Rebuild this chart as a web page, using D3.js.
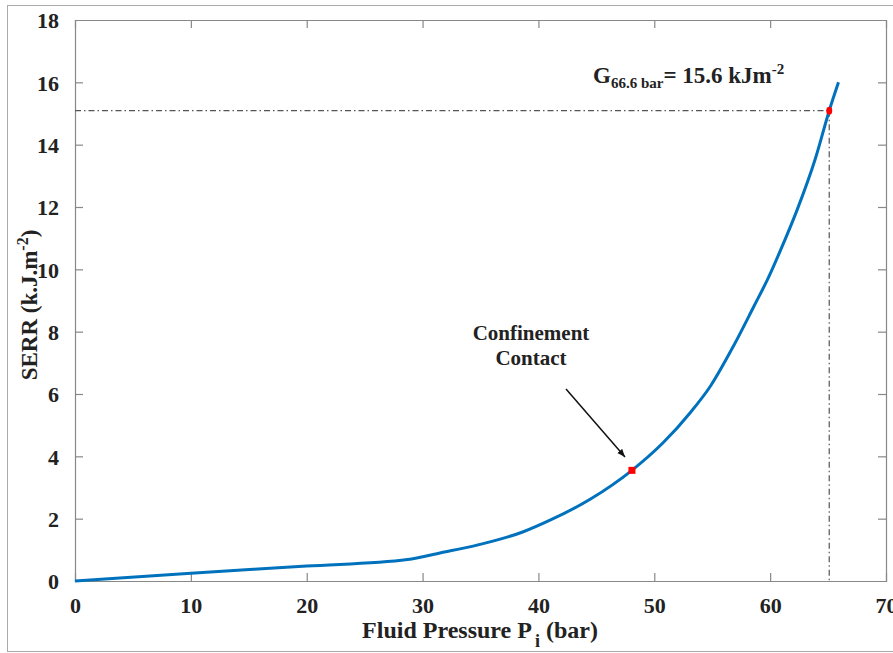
<!DOCTYPE html>
<html><head><meta charset="utf-8">
<script src="https://cdn.jsdelivr.net/npm/d3@7"></script>
<style>body{margin:0;background:#fff}svg{display:block}svg text{font-family:"Times New Roman","Liberation Serif","DejaVu Serif",serif !important;font-weight:bold;fill:#222}</style>
</head><body>
<script>
// Data
const pressure = [0, 10, 20, 28.7, 31.5, 34.7, 38.7, 41, 44.5, 48.07, 50.8, 53.1, 54.84, 56.85, 58.58, 59.87, 60.88, 62.32, 63.9, 65.1, 65.9];
const serr     = [0, 0.25, 0.48, 0.69, 0.9, 1.15, 1.58, 1.95, 2.63, 3.55, 4.45, 5.4, 6.25, 7.55, 8.8, 9.75, 10.6, 11.9, 13.55, 15.09, 16.0];
const xTicks = [0, 10, 20, 30, 40, 50, 60, 70];
const yTicks = [0, 2, 4, 6, 8, 10, 12, 14, 16, 18];
const contactPoint = {p: 48.07, g: 3.55};
const criticalPoint = {p: 65.1, g: 15.09};

const W = 893, H = 653;
const m = {l: 75, t: 20, r: 886, b: 581};
const FONT = "'Times New Roman', 'Liberation Serif', 'DejaVu Serif', serif";
const svg = d3.select("body").append("svg").attr("width", W).attr("height", H);

// outer frame
svg.append("rect").attr("x", 7.5).attr("y", 5.5).attr("width", 900).attr("height", 646)
  .attr("fill", "none").attr("stroke", "#aaa").attr("stroke-width", 1);

const x = d3.scaleLinear().domain([0, 70]).range([m.l, m.r]);
const y = d3.scaleLinear().domain([0, 18]).range([m.b, m.t]);

const axisColor = "#888";
const tl = 8;
const gb = svg.append("g").attr("transform", `translate(0,${m.b})`)
  .call(d3.axisBottom(x).tickValues(xTicks).tickSize(-tl).tickPadding(16));
const gt = svg.append("g").attr("transform", `translate(0,${m.t})`)
  .call(d3.axisTop(x).tickValues(xTicks).tickSize(-tl).tickFormat(""));
const gl = svg.append("g").attr("transform", `translate(${m.l},0)`)
  .call(d3.axisLeft(y).tickValues(yTicks).tickSize(-tl).tickPadding(16));
const gr = svg.append("g").attr("transform", `translate(${m.r},0)`)
  .call(d3.axisRight(y).tickValues(yTicks).tickSize(-tl).tickFormat(""));
[gb, gt, gl, gr].forEach(g => {
  g.attr("font-family", FONT);
  g.selectAll(".domain").attr("stroke", axisColor).attr("stroke-width", 1.2);
  g.selectAll(".tick line").attr("stroke", axisColor).attr("stroke-width", 1.2);
  g.selectAll("text").attr("font-size", 22).attr("font-family", FONT)
    .attr("font-weight", "bold").attr("fill", "#222");
});
gb.selectAll(".tick").filter(d => d === 0 || d === 70).select("line").remove();
gt.selectAll(".tick").filter(d => d === 0 || d === 70).select("line").remove();
gl.selectAll(".tick").filter(d => d === 0 || d === 18).select("line").remove();
gr.selectAll(".tick").filter(d => d === 0 || d === 18).select("line").remove();
gl.selectAll("text").attr("dx", 0).attr("dy", "0.36em");

// dash-dot guides
const dashColor = "#555";
svg.append("line").attr("x1", x(0)).attr("x2", x(criticalPoint.p))
  .attr("y1", y(criticalPoint.g)).attr("y2", y(criticalPoint.g))
  .attr("stroke", dashColor).attr("stroke-width", 1.2).attr("stroke-dasharray", "6,3,1.5,3");
svg.append("line").attr("x1", x(criticalPoint.p)).attr("x2", x(criticalPoint.p))
  .attr("y1", y(criticalPoint.g)).attr("y2", y(0))
  .attr("stroke", dashColor).attr("stroke-width", 1.2).attr("stroke-dasharray", "6,3,1.5,3");

// curve
const data = pressure.map((p, i) => ({p, g: serr[i]}));
svg.append("path").datum(data)
  .attr("d", d3.line().x(d => x(d.p)).y(d => y(d.g)).curve(d3.curveMonotoneX))
  .attr("fill", "none").attr("stroke", "#0072BD").attr("stroke-width", 3);

// markers
svg.append("rect").attr("x", x(contactPoint.p) - 3.5).attr("y", y(contactPoint.g) - 3.5)
  .attr("width", 7).attr("height", 7).attr("fill", "#ff0000");
svg.append("ellipse").attr("cx", x(criticalPoint.p)).attr("cy", y(criticalPoint.g))
  .attr("rx", 3).attr("ry", 4).attr("fill", "#ff0000");

// arrow
svg.append("defs").append("marker").attr("id", "ah").attr("viewBox", "0 0 10 10")
  .attr("refX", 10).attr("refY", 5).attr("markerWidth", 8).attr("markerHeight", 8)
  .attr("markerUnits", "userSpaceOnUse").attr("orient", "auto")
  .append("path").attr("d", "M0,1 L10,5 L0,9 Z").attr("fill", "#111");
svg.append("line").attr("x1", 566).attr("y1", 389).attr("x2", 625).attr("y2", 457)
  .attr("stroke", "#111").attr("stroke-width", 1.5).attr("marker-end", "url(#ah)");

// annotation texts
svg.append("text").attr("x", 531).attr("y", 340).attr("text-anchor", "middle")
  .attr("font-family", FONT).attr("font-size", 21).text("Confinement");
svg.append("text").attr("x", 531).attr("y", 365).attr("text-anchor", "middle")
  .attr("font-family", FONT).attr("font-size", 21).text("Contact");

const g = svg.append("text").attr("x", 593).attr("y", 83).attr("font-size", 23).attr("font-family", FONT);
g.append("tspan").text("G");
g.append("tspan").attr("font-size", 15).attr("dy", 5).text("66.6 bar");
g.append("tspan").attr("dy", -5).text("= 15.6 kJm");
g.append("tspan").attr("font-size", 15).attr("dy", -9).text("-2");

// axis titles
const xt = svg.append("text").attr("x", 480).attr("y", 638).attr("text-anchor", "middle")
  .attr("font-size", 24).attr("font-family", FONT);
xt.append("tspan").text("Fluid Pressure P");
xt.append("tspan").attr("font-size", 18).attr("dy", 9).attr("dx", 3).text("i");
xt.append("tspan").attr("dy", -9).text(" (bar)");

const yt = svg.append("text").attr("transform", "translate(37,305) rotate(-90)")
  .attr("text-anchor", "middle").attr("font-size", 23).attr("font-family", FONT);
yt.append("tspan").text("SERR (k.J.m");
yt.append("tspan").attr("font-size", 16).attr("dy", -9).text("-2");
yt.append("tspan").attr("dy", 9).text(")");
</script>
</body></html>
